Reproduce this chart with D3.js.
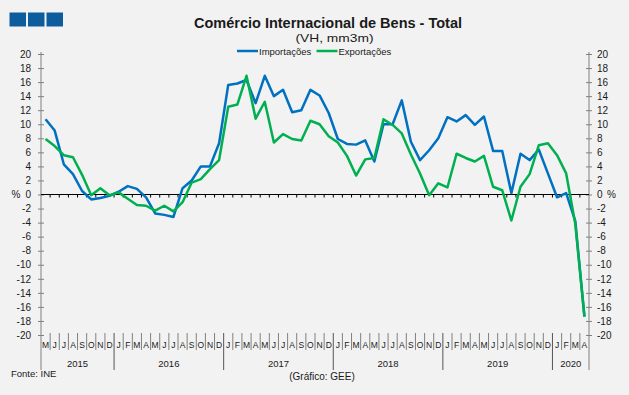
<!DOCTYPE html>
<html>
<head>
<meta charset="utf-8">
<script src="https://cdn.jsdelivr.net/npm/d3@7"></script>
<style>
  body { margin: 0; background: #f2f2f2; }
  svg { display: block; font-family: "Liberation Sans", Arial, sans-serif; }
</style>
</head>
<body>
<svg id="chart" width="629" height="395"></svg>
<script>
// categorias: meses de mai/2015 a abr/2020
var anos = ["2015", "2016", "2017", "2018", "2019", "2020"];
var iniciais = ["J", "F", "M", "A", "M", "J", "J", "A", "S", "O", "N", "D"];
var meses = d3.timeMonth.range(new Date(2015, 4, 1), new Date(2020, 4, 1));

// VH, mm3m (%)
var importacoes = [
  10.7, 9.1, 4.3, 2.9, 0.5, -0.7, -0.5, -0.2,
  0.4, 1.2, 0.8, -0.4, -2.7, -2.9, -3.2, 0.9, 2.0, 4.0, 4.0, 7.3,
  15.6, 15.8, 16.3, 13.0, 16.9, 14.0, 14.9, 11.7, 12.0, 14.9, 14.1, 11.6,
  7.9, 7.2, 7.1, 7.7, 4.7, 10.0, 10.0, 13.4, 7.5, 4.9, 6.3, 8.0,
  11.0, 10.4, 11.3, 9.9, 11.1, 6.2, 6.2, 0.2, 5.8, 4.9, 6.4, 3.0,
  -0.4, 0.2, -3.8, -17.4
];
var exportacoes = [
  7.9, 6.9, 5.6, 5.3, 2.8, -0.1, 0.9, -0.1,
  0.3, -0.6, -1.5, -1.6, -2.3, -1.6, -2.4, -1.1, 1.7, 2.2, 3.6, 4.9,
  12.5, 12.8, 16.9, 10.8, 13.2, 7.4, 8.6, 7.9, 7.7, 10.5, 10.0, 8.3,
  7.4, 5.5, 2.7, 5.0, 5.2, 10.7, 9.9, 8.7, 5.7, 3.0, -0.1, 1.6,
  1.0, 5.8, 5.2, 4.7, 5.5, 1.1, 0.6, -3.7, 1.1, 2.9, 7.0, 7.3,
  5.6, 3.0, -4.2, -17.4
];
var valoresEixo = d3.range(-20, 21, 2);

var svg = d3.select("#chart");
var cinza = "#808080";

svg.append("rect").attr("width", 629).attr("height", 395).attr("fill", "#f2f2f2");

// logotipo (tres quadrados)
[9.5, 28, 46.5].forEach(function(px) {
  svg.append("rect").attr("x", px).attr("y", 12.5).attr("width", 16.5).attr("height", 14)
    .attr("fill", "#0d5c9e");
});

var x = d3.scaleBand().domain(d3.range(meses.length)).range([41, 589]);
var y = d3.scaleLinear().domain([-20, 20]).range([335, 54]);
var bw = x.bandwidth();

// titulo
svg.append("text").attr("x", 328).attr("y", 28).attr("text-anchor", "middle")
  .attr("font-size", 14.5).attr("font-weight", "bold").attr("fill", "#1a1a1a")
  .text("Comércio Internacional de Bens - Total");
svg.append("text").attr("x", 334.5).attr("y", 41.5).attr("text-anchor", "middle")
  .attr("font-size", 11).attr("fill", "#1a1a1a")
  .attr("textLength", 78).attr("lengthAdjust", "spacingAndGlyphs")
  .text("(VH, mm3m)");

// legenda
var legenda = [
  { nome: "Importações", cor: "#0070c0", x: 237 },
  { nome: "Exportações", cor: "#00b050", x: 316.5 }
];
legenda.forEach(function(l) {
  svg.append("line").attr("x1", l.x).attr("x2", l.x + 21).attr("y1", 51).attr("y2", 51)
    .attr("stroke", l.cor).attr("stroke-width", 2.5);
  svg.append("text").attr("x", l.x + 22).attr("y", 54.5).attr("font-size", 9.5)
    .attr("fill", "#1a1a1a").text(l.nome);
});

// eixos verticais
function estiloEixo(g) {
  g.select(".domain").remove();
  g.selectAll(".tick line").attr("x1", -3).attr("x2", 3).attr("stroke", cinza);
  g.selectAll(".tick text").attr("font-size", 10).attr("fill", "#1a1a1a")
    .attr("font-family", "\"Liberation Sans\", Arial, sans-serif");
}
svg.append("g").attr("transform", "translate(41,0)")
  .call(d3.axisLeft(y).tickValues(valoresEixo).tickSize(3).tickPadding(7)
    .tickFormat(function(d) { return String(d); }))
  .call(estiloEixo);
svg.append("g").attr("transform", "translate(589,0)")
  .call(d3.axisRight(y).tickValues(valoresEixo).tickSize(3).tickPadding(5)
    .tickFormat(function(d) { return String(d); }))
  .call(estiloEixo);

[41, 589].forEach(function(px) {
  svg.append("line").attr("x1", px).attr("x2", px).attr("y1", 52).attr("y2", 370)
    .attr("stroke", cinza);
});
svg.append("text").attr("x", 20.5).attr("y", y(0)).attr("dy", "0.34em")
  .attr("text-anchor", "end").attr("font-size", 10).attr("fill", "#1a1a1a").text("%");
svg.append("text").attr("x", 607).attr("y", y(0)).attr("dy", "0.34em")
  .attr("font-size", 10).attr("fill", "#1a1a1a").text("%");

// linha do zero com marcas
svg.append("line").attr("x1", 41).attr("x2", 589).attr("y1", y(0)).attr("y2", y(0))
  .attr("stroke", "#000");
svg.append("g").selectAll("line").data(d3.range(1, meses.length)).enter().append("line")
  .attr("x1", function(i) { return x(i); }).attr("x2", function(i) { return x(i); })
  .attr("y1", y(0)).attr("y2", y(0) + 3).attr("stroke", "#000");

// separadores de meses e anos
svg.append("g").selectAll("line").data(d3.range(1, meses.length)).enter().append("line")
  .attr("x1", function(i) { return x(i); }).attr("x2", function(i) { return x(i); })
  .attr("y1", 333)
  .attr("y2", function(i) { return meses[i].getMonth() === 0 ? 370 : 350; })
  .attr("stroke", function(i) { return meses[i].getMonth() === 0 ? "#555" : cinza; });

svg.append("g").selectAll("text").data(meses).enter().append("text")
  .attr("x", function(d, i) { return x(i) + bw / 2; })
  .attr("y", 348).attr("text-anchor", "middle").attr("font-size", 8.5).attr("fill", "#1a1a1a")
  .text(function(d) { return iniciais[d.getMonth()]; });

svg.append("g").selectAll("text").data(anos).enter().append("text")
  .attr("x", function(a) {
    var idx = meses.map(function(m, i) { return m.getFullYear() === +a ? i : -1; })
      .filter(function(i) { return i >= 0; });
    return (x(idx[0]) + x(idx[idx.length - 1]) + bw) / 2;
  })
  .attr("y", 366.5).attr("text-anchor", "middle").attr("font-size", 9.5).attr("fill", "#1a1a1a")
  .text(function(a) { return a; });

// series
var linha = d3.line()
  .x(function(d, i) { return x(i) + bw / 2; })
  .y(function(d) { return y(d); });

svg.append("path").datum(importacoes).attr("d", linha).attr("fill", "none")
  .attr("stroke", "#0070c0").attr("stroke-width", 2.5).attr("stroke-linejoin", "round");
svg.append("path").datum(exportacoes).attr("d", linha).attr("fill", "none")
  .attr("stroke", "#00b050").attr("stroke-width", 2.5).attr("stroke-linejoin", "round");

// rodape
svg.append("text").attr("x", 11).attr("y", 377).attr("font-size", 9.5).attr("fill", "#1a1a1a")
  .text("Fonte: INE");
svg.append("text").attr("x", 322).attr("y", 380).attr("text-anchor", "middle")
  .attr("font-size", 10).attr("fill", "#1a1a1a").text("(Gráfico: GEE)");
</script>
</body>
</html>
